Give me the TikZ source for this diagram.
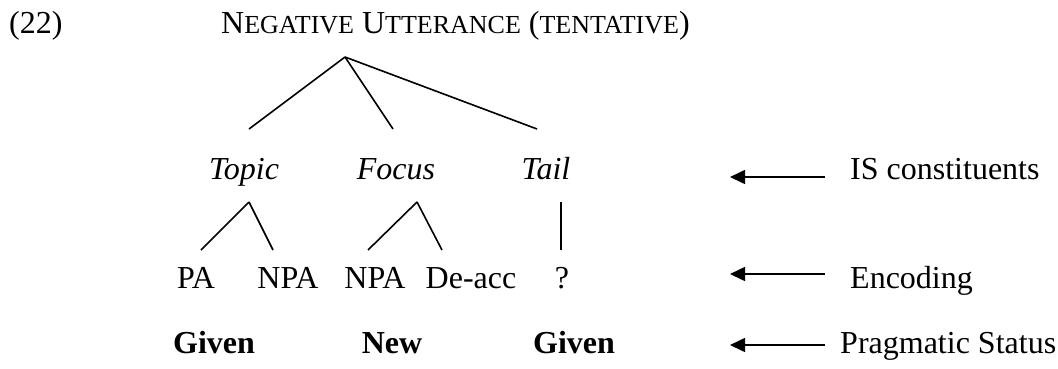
\documentclass[tikz,border=0pt]{standalone}
\usepackage{fontspec}
\setmainfont{Liberation Serif}
\usetikzlibrary{arrows.meta}

\newcommand{\fsc}[1]{{\fontsize{26}{31}\selectfont #1}} % fake small caps

\begin{document}
\begin{tikzpicture}[x=1pt, y=-1pt,
                    every node/.style={inner sep=0pt, anchor=base, font=\fontsize{32}{38}\selectfont},
                    branch/.style={line width=1.6pt},
                    pointer/.style={line width=1.6pt, -{Triangle[length=15pt, width=14pt]}}
                    ]
    \useasboundingbox (0,0) rectangle (1058,368);

    % HEADER %
    \node[anchor=base west] (ex) at (9,33) {(22)};
    \node[anchor=base west] (title) at (221,33) {N\fsc{EGATIVE} U\fsc{TTERANCE} (\fsc{TENTATIVE})};

    % TOP BRANCHES %
    \coordinate (root) at (345,57);
    \foreach \c/\x in {t/249, f/393, l/537}{
    \coordinate (b\c) at (\x,129);
    \draw[branch] (root) -- (b\c);
    }

    % IS CONSTITUENTS %
    \node (topic) at (244,179) {\textit{Topic}};
    \node (focus) at (396,179) {\textit{Focus}};
    \node (tail)  at (546,179) {\textit{Tail}};

    % SUBTREES %
    \coordinate (tTop) at (249,202);
    \coordinate (fTop) at (417,202);
    \coordinate (lTop) at (561,202);
    \foreach \a/\x in {tTop/201, tTop/273, fTop/368, fTop/442, lTop/561}
    \draw[branch] (\a) -- (\x,250) coordinate (end\x);

    % ENCODING %
    \node (pa)    at (196,288) {PA};
    \node (npaT)  at (288,288) {NPA};
    \node (npaF)  at (375,288) {NPA};
    \node (deacc) at (471,288) {De-acc};
    \node (quest) at (562,288) {?};

    % PRAGMATIC STATUS %
    \node (givenT) at (214,353) {\textbf{Given}};
    \node (newF)   at (392,353) {\textbf{New}};
    \node (givenL) at (574,353) {\textbf{Given}};

    % LEGEND %
    \node[anchor=base west] (lblIS)   at (850,179) {IS constituents};
    \node[anchor=base west] (lblEnc)  at (850,288) {Encoding};
    \node[anchor=base west] (lblPrag) at (840,353) {Pragmatic Status};

    \foreach \n/\y in {IS/177, Enc/274, Prag/345}{
    \coordinate (s\n) at (825,\y);
    \coordinate (e\n) at (730,\y);
    \draw[pointer] (s\n) -- (e\n);
    }
\end{tikzpicture}
\end{document}
